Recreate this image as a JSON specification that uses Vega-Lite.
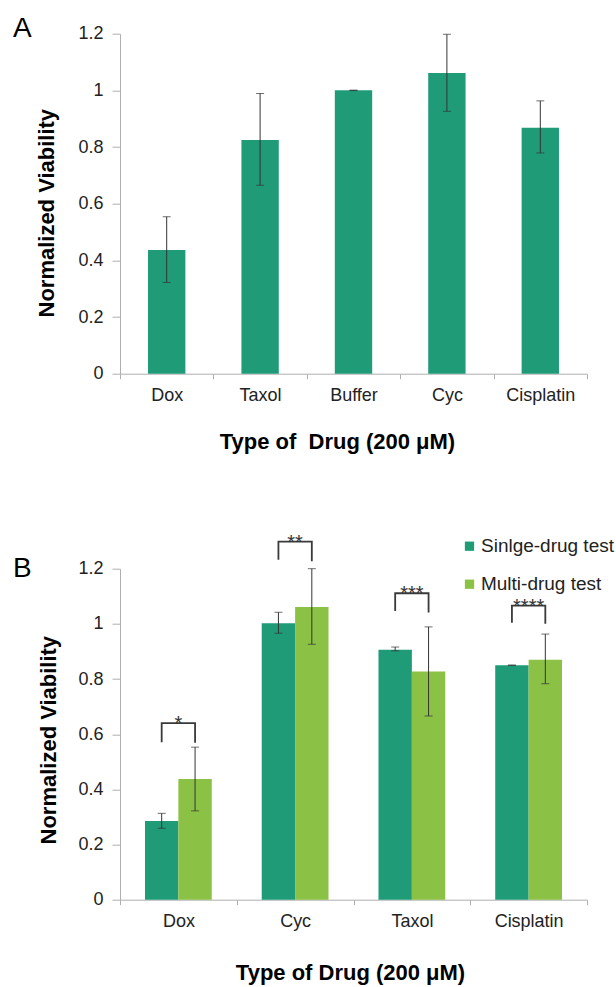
{
  "$schema": "https://vega.github.io/schema/vega-lite/v6.json",
  "padding": {"left": 13, "top": 14.7, "right": 0, "bottom": 6},
  "background": "white",
  "config": {
    "font": "Liberation Sans",
    "view": {"stroke": null},
    "axis": {
      "labelFont": "Liberation Sans",
      "labelFontSize": 18,
      "labelColor": "#222222",
      "titleFont": "Liberation Sans",
      "titleFontSize": 22,
      "titleFontWeight": "bold",
      "titleColor": "#000000",
      "domainColor": "#b0b0b0",
      "tickColor": "#b0b0b0",
      "grid": false
    }
  },
  "datasets": {
    "single": [
      {"drug": "Dox", "value": 0.437, "lo": 0.322, "hi": 0.554},
      {"drug": "Taxol", "value": 0.825, "lo": 0.665, "hi": 0.989},
      {"drug": "Buffer", "value": 1.0, "lo": 0.999, "hi": 1.001},
      {"drug": "Cyc", "value": 1.061, "lo": 0.926, "hi": 1.198},
      {"drug": "Cisplatin", "value": 0.868, "lo": 0.779, "hi": 0.963}
    ],
    "multi": [
      {"drug": "Dox", "group": "Sinlge-drug test", "value": 0.285, "lo": 0.259, "hi": 0.313},
      {"drug": "Dox", "group": "Multi-drug test", "value": 0.438, "lo": 0.322, "hi": 0.553},
      {"drug": "Cyc", "group": "Sinlge-drug test", "value": 1.002, "lo": 0.966, "hi": 1.042},
      {"drug": "Cyc", "group": "Multi-drug test", "value": 1.061, "lo": 0.926, "hi": 1.2},
      {"drug": "Taxol", "group": "Sinlge-drug test", "value": 0.906, "lo": 0.902, "hi": 0.916},
      {"drug": "Taxol", "group": "Multi-drug test", "value": 0.827, "lo": 0.666, "hi": 0.989},
      {"drug": "Cisplatin", "group": "Sinlge-drug test", "value": 0.85, "lo": 0.849, "hi": 0.851},
      {"drug": "Cisplatin", "group": "Multi-drug test", "value": 0.87, "lo": 0.783, "hi": 0.963}
    ],
    "brackets": [
      {"drug": "Dox", "group": "Sinlge-drug test", "y": 0.571, "ord": 1},
      {"drug": "Dox", "group": "Sinlge-drug test", "y": 0.64, "ord": 2},
      {"drug": "Dox", "group": "Multi-drug test", "y": 0.64, "ord": 3},
      {"drug": "Dox", "group": "Multi-drug test", "y": 0.569, "ord": 4},
      {"drug": "Cyc", "group": "Sinlge-drug test", "y": 1.232, "ord": 1},
      {"drug": "Cyc", "group": "Sinlge-drug test", "y": 1.298, "ord": 2},
      {"drug": "Cyc", "group": "Multi-drug test", "y": 1.298, "ord": 3},
      {"drug": "Cyc", "group": "Multi-drug test", "y": 1.227, "ord": 4},
      {"drug": "Taxol", "group": "Sinlge-drug test", "y": 1.047, "ord": 1},
      {"drug": "Taxol", "group": "Sinlge-drug test", "y": 1.111, "ord": 2},
      {"drug": "Taxol", "group": "Multi-drug test", "y": 1.111, "ord": 3},
      {"drug": "Taxol", "group": "Multi-drug test", "y": 1.041, "ord": 4},
      {"drug": "Cisplatin", "group": "Sinlge-drug test", "y": 1.004, "ord": 1},
      {"drug": "Cisplatin", "group": "Sinlge-drug test", "y": 1.066, "ord": 2},
      {"drug": "Cisplatin", "group": "Multi-drug test", "y": 1.066, "ord": 3},
      {"drug": "Cisplatin", "group": "Multi-drug test", "y": 1.0, "ord": 4}
    ],
    "stars": [
      {"drug": "Dox", "label": "*", "y": 0.64},
      {"drug": "Cyc", "label": "**", "y": 1.298},
      {"drug": "Taxol", "label": "***", "y": 1.111},
      {"drug": "Cisplatin", "label": "****", "y": 1.066}
    ]
  },
  "bounds": "flush",
  "spacing": 195,
  "resolve": {"legend": {"color": "independent"}, "scale": {"color": "independent"}},
  "vconcat": [
    {
      "width": 467,
      "height": 340,
      "title": {"text": "A", "anchor": "start", "frame": "group", "dx": -107, "dy": 40.4, "fontSize": 28, "fontWeight": "normal", "font": "Liberation Sans", "color": "#000000", "baseline": "alphabetic", "offset": 0},
      "data": {"name": "single"},
      "layer": [
        {
          "mark": {"type": "bar", "width": {"band": 0.4}, "color": "#1f9b78"},
          "encoding": {
            "x": {"field": "drug", "type": "nominal", "sort": ["Dox", "Taxol", "Buffer", "Cyc", "Cisplatin"], "scale": {"paddingInner": 0, "paddingOuter": 0},
              "title": "Type of\u00a0 Drug (200 μM)",
              "axis": {"labelAngle": 0, "tickBand": "extent", "tickSize": 5, "labelPadding": 8, "titleX": 217, "titleY": 75, "titleBaseline": "alphabetic", "titleAnchor": null}},
            "y": {"field": "value", "type": "quantitative", "scale": {"domain": [0, 1.2], "nice": false}, "title": "Normalized Viability",
              "axis": {"values": [0, 0.2, 0.4, 0.6, 0.8, 1, 1.2], "format": "~g", "tickSize": 8, "labelPadding": 9, "titleX": -67, "titleY": 179, "titleBaseline": "alphabetic", "titleAngle": -90}}
          }
        },
        {
          "mark": {"type": "rule", "color": "#333333", "strokeWidth": 1},
          "encoding": {
            "x": {"field": "drug", "type": "nominal", "sort": ["Dox", "Taxol", "Buffer", "Cyc", "Cisplatin"], "title": "Type of\u00a0 Drug (200 μM)"},
            "y": {"field": "lo", "type": "quantitative", "title": "Normalized Viability"},
            "y2": {"field": "hi"}
          }
        },
        {
          "mark": {"type": "tick", "orient": "horizontal", "size": 8, "thickness": 1, "color": "#333333"},
          "encoding": {
            "x": {"field": "drug", "type": "nominal", "sort": ["Dox", "Taxol", "Buffer", "Cyc", "Cisplatin"], "title": "Type of\u00a0 Drug (200 μM)"},
            "y": {"field": "lo", "type": "quantitative", "title": "Normalized Viability"}
          }
        },
        {
          "mark": {"type": "tick", "orient": "horizontal", "size": 8, "thickness": 1, "color": "#333333"},
          "encoding": {
            "x": {"field": "drug", "type": "nominal", "sort": ["Dox", "Taxol", "Buffer", "Cyc", "Cisplatin"], "title": "Type of\u00a0 Drug (200 μM)"},
            "y": {"field": "hi", "type": "quantitative", "title": "Normalized Viability"}
          }
        }
      ]
    },
    {
      "width": 467,
      "height": 331,
      "title": {"text": "B", "anchor": "start", "frame": "group", "dx": -107, "dy": 72.7, "fontSize": 28, "fontWeight": "normal", "font": "Liberation Sans", "color": "#000000", "baseline": "alphabetic", "offset": 0},
      "layer": [
        {
          "data": {"name": "multi"},
          "mark": {"type": "bar"},
          "encoding": {
            "x": {"field": "drug", "type": "nominal", "sort": ["Dox", "Cyc", "Taxol", "Cisplatin"], "scale": {"paddingInner": 0, "paddingOuter": 0},
              "title": "Type of Drug (200 μM)",
              "axis": {"labelAngle": 0, "tickBand": "extent", "tickSize": 5, "labelPadding": 8, "titleX": 230, "titleY": 80, "titleBaseline": "alphabetic", "titleAnchor": null}},
            "xOffset": {"field": "group", "type": "nominal", "sort": ["Sinlge-drug test", "Multi-drug test"], "scale": {"paddingInner": 0, "paddingOuter": 0.748}},
            "y": {"field": "value", "type": "quantitative", "scale": {"domain": [0, 1.2], "nice": false}, "title": "Normalized Viability",
              "axis": {"values": [0, 0.2, 0.4, 0.6, 0.8, 1, 1.2], "format": "~g", "tickSize": 8, "labelPadding": 9, "titleX": -65, "titleY": 171, "titleBaseline": "alphabetic", "titleAngle": -90}},
            "color": {"field": "group", "type": "nominal", "sort": ["Sinlge-drug test", "Multi-drug test"],
              "scale": {"domain": ["Sinlge-drug test", "Multi-drug test"], "range": ["#1f9b78", "#8bc145"]},
              "legend": {"orient": "none", "legendX": 340, "legendY": -32, "title": null, "labelFontSize": 19, "labelFont": "Liberation Sans", "labelColor": "#222222", "symbolType": "square", "symbolSize": 86, "symbolStrokeWidth": 0, "symbolOpacity": 1, "rowPadding": 18, "labelOffset": 2, "padding": 0}}
          }
        },
        {
          "data": {"name": "multi"},
          "mark": {"type": "rule", "color": "#333333", "strokeWidth": 1},
          "encoding": {
            "x": {"field": "drug", "type": "nominal", "sort": ["Dox", "Cyc", "Taxol", "Cisplatin"], "title": "Type of Drug (200 μM)"},
            "xOffset": {"field": "group", "type": "nominal", "sort": ["Sinlge-drug test", "Multi-drug test"]},
            "y": {"field": "lo", "type": "quantitative", "title": "Normalized Viability"},
            "y2": {"field": "hi"}
          }
        },
        {
          "data": {"name": "multi"},
          "mark": {"type": "tick", "orient": "horizontal", "size": 8, "thickness": 1, "color": "#333333"},
          "encoding": {
            "x": {"field": "drug", "type": "nominal", "sort": ["Dox", "Cyc", "Taxol", "Cisplatin"], "title": "Type of Drug (200 μM)"},
            "xOffset": {"field": "group", "type": "nominal", "sort": ["Sinlge-drug test", "Multi-drug test"]},
            "y": {"field": "lo", "type": "quantitative", "title": "Normalized Viability"}
          }
        },
        {
          "data": {"name": "multi"},
          "mark": {"type": "tick", "orient": "horizontal", "size": 8, "thickness": 1, "color": "#333333"},
          "encoding": {
            "x": {"field": "drug", "type": "nominal", "sort": ["Dox", "Cyc", "Taxol", "Cisplatin"], "title": "Type of Drug (200 μM)"},
            "xOffset": {"field": "group", "type": "nominal", "sort": ["Sinlge-drug test", "Multi-drug test"]},
            "y": {"field": "hi", "type": "quantitative", "title": "Normalized Viability"}
          }
        },
        {
          "data": {"name": "brackets"},
          "mark": {"type": "line", "color": "#3a3a3a", "strokeWidth": 1.8, "strokeJoin": "miter", "strokeCap": "butt"},
          "encoding": {
            "x": {"field": "drug", "type": "nominal", "sort": ["Dox", "Cyc", "Taxol", "Cisplatin"], "title": "Type of Drug (200 μM)"},
            "xOffset": {"field": "group", "type": "nominal", "sort": ["Sinlge-drug test", "Multi-drug test"]},
            "y": {"field": "y", "type": "quantitative", "title": "Normalized Viability"},
            "detail": {"field": "drug"},
            "order": {"field": "ord", "type": "quantitative"}
          }
        },
        {
          "data": {"name": "stars"},
          "mark": {"type": "text", "fontSize": 20, "color": "#333333", "baseline": "alphabetic", "dy": 7, "font": "Liberation Sans"},
          "encoding": {
            "x": {"field": "drug", "type": "nominal", "sort": ["Dox", "Cyc", "Taxol", "Cisplatin"], "title": "Type of Drug (200 μM)"},
            "y": {"field": "y", "type": "quantitative", "title": "Normalized Viability"},
            "text": {"field": "label"}
          }
        }
      ]
    }
  ]
}
